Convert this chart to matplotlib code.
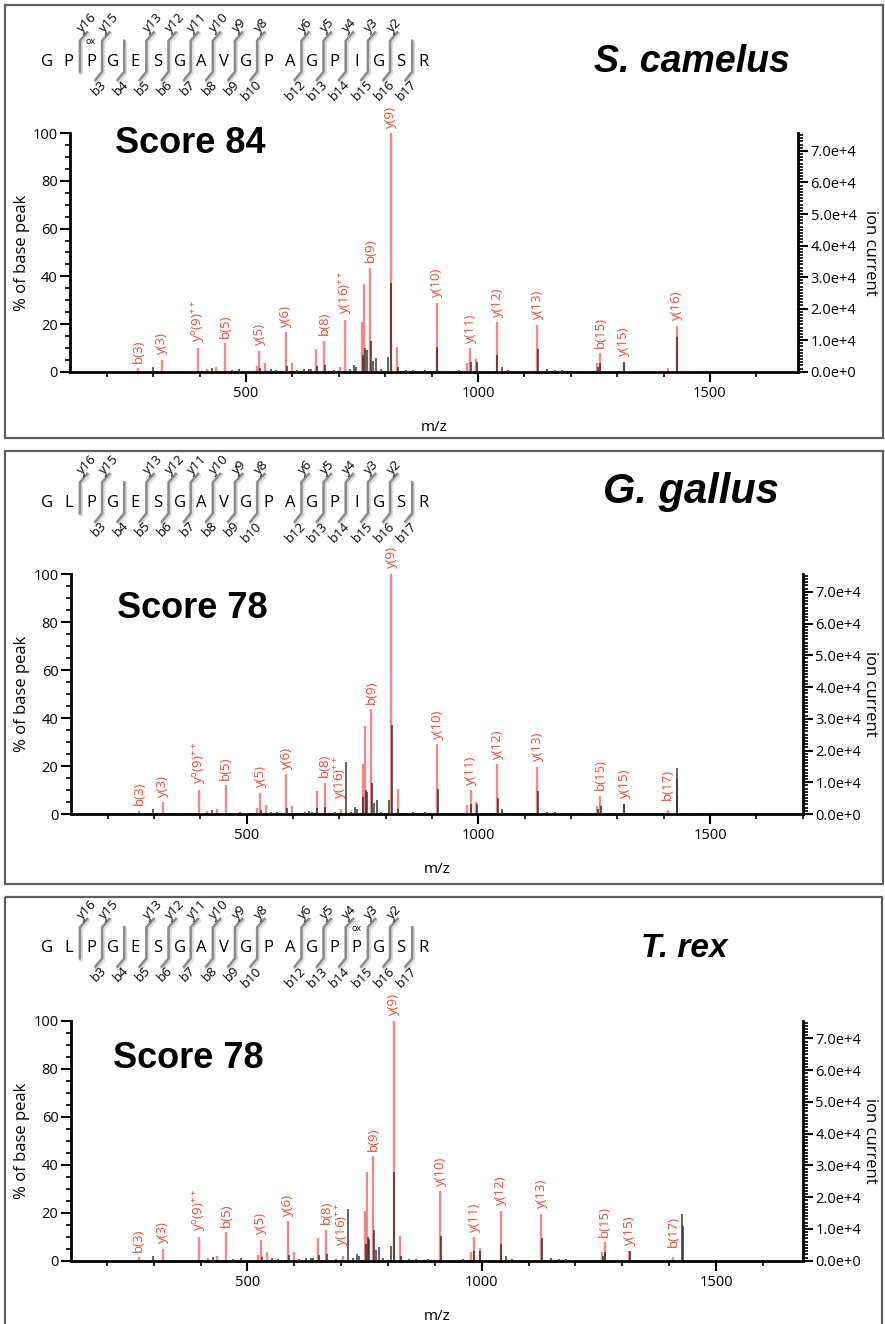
import matplotlib.pyplot as plt
from matplotlib.patches import Rectangle
from matplotlib.ticker import MultipleLocator, FuncFormatter

plt.rcParams['font.family'] = ['Open Sans', 'DejaVu Sans']
plt.rcParams['mathtext.default'] = 'regular'

W, H = 885, 1324

# ---- data (m/z, % of base peak) ----
# peaks matched (red) in every panel
red_mz = [267.6, 318.7, 397.1, 415.0, 435.0, 454.7, 523.0, 528.8, 541.7, 585.6,
          598.6, 651.0, 668.4, 702.9, 751.0, 754.7, 768.3, 812.3, 826.0, 911.6,
          976.3, 983.5, 995.7, 1041.0, 1127.5, 1257.0, 1262.7, 1314.4, 1408.7]
red_pct = [1.4, 4.9, 10.0, 1.2, 2.0, 11.9, 2.5, 8.8, 3.8, 16.5,
           3.5, 9.5, 13.0, 2.0, 20.7, 36.8, 43.6, 100.0, 10.5, 29.0,
           3.8, 9.8, 5.2, 20.7, 19.6, 3.5, 7.7, 4.2, 1.5]

# unmatched peaks (black) in every panel
black_mz = [200, 232, 298.6, 350, 372, 426.0, 470, 485.5, 500, 530.0, 553.0,
            565, 587.8, 610, 625.0, 635, 640.0, 652.0, 669.5, 690, 725, 733.1,
            738.0, 752.0, 757.0, 760.0, 770.0, 774.0, 780.6, 790, 807.0, 813.3,
            827.0, 845, 860.0, 870, 885.0, 912.6, 940, 960, 984.5, 997.0, 1020,
            1042.0, 1051.0, 1065, 1085, 1100, 1128.5, 1148.0, 1165.0, 1180, 1210,
            1235, 1258.0, 1264.0, 1290, 1315.4, 1335, 1390, 1429.0, 1455]
black_pct = [0.3, 0.4, 2.0, 0.5, 0.4, 1.5, 0.6, 1.0, 0.5, 1.5, 1.0,
             0.8, 2.5, 0.6, 1.0, 1.2, 1.0, 2.5, 3.0, 0.7, 1.0, 3.0,
             2.0, 7.0, 10.0, 9.0, 13.0, 4.5, 5.9, 1.0, 6.0, 37.0,
             2.0, 0.6, 0.8, 0.5, 0.8, 10.5, 0.4, 0.6, 4.0, 4.0, 0.5,
             6.8, 2.0, 0.6, 0.5, 0.4, 9.5, 1.0, 0.8, 0.6, 0.4,
             0.5, 2.0, 3.5, 0.5, 4.0, 0.4, 0.3, 14.4, 0.3]

# peaks matched only for S. camelus (black for the other two)
var_mz = [713.7, 1428.0]
var_pct = [21.7, 19.3]

# ion labels: text, m/z, height of the labelled peak
lab_camelus = ['b(3)', 'y(3)', r'y$^{o}$(9)$^{++}$', 'b(5)', 'y(5)', 'y(6)', 'b(8)',
               r'y(16)$^{++}$', 'b(9)', 'y(9)', 'y(10)', 'y(11)', 'y(12)', 'y(13)',
               'b(15)', 'y(15)', 'y(16)']
lab_camelus_mz = [267.6, 318.7, 397.1, 454.7, 528.8, 585.6, 668.4, 713.7, 768.3,
                  812.3, 911.6, 983.5, 1041.0, 1127.5, 1262.7, 1314.4, 1428.0]
lab_camelus_h = [1.4, 4.9, 10.0, 11.9, 8.8, 16.5, 13.0, 21.7, 43.6,
                 100.0, 29.0, 9.8, 20.7, 19.6, 7.7, 4.2, 19.3]

lab_other = ['b(3)', 'y(3)', r'y$^{o}$(9)$^{++}$', 'b(5)', 'y(5)', 'y(6)', 'b(8)',
             r'y(16)$^{++}$', 'b(9)', 'y(9)', 'y(10)', 'y(11)', 'y(12)', 'y(13)',
             'b(15)', 'y(15)', 'b(17)']
lab_other_mz = [267.6, 318.7, 397.1, 454.7, 528.8, 585.6, 668.4, 702.9, 768.3,
                812.3, 911.6, 983.5, 1041.0, 1127.5, 1262.7, 1314.4, 1408.7]
lab_other_h = [1.4, 4.9, 10.0, 11.9, 8.8, 16.5, 13.0, 4.0, 43.6,
               100.0, 29.0, 9.8, 20.7, 19.6, 7.7, 4.2, 3.5]

sequences = ['GPPGESGAVGPAGPIGSR', 'GLPGESGAVGPAGPIGSR', 'GLPGESGAVGPAGPPGSR']
ox_sites = [2, None, 14]
species = ['S. camelus', 'G. gallus', 'T. rex']
scores = ['Score 84', 'Score 78', 'Score 78']
# cleavage sites (after residue k) that carry a y / b ion
y_sites = [2, 3, 5, 6, 7, 8, 9, 10, 12, 13, 14, 15, 16]
b_sites = [3, 4, 5, 6, 7, 8, 9, 10, 12, 13, 14, 15, 16, 17]

# ---- layout in pixels ----
layout = [
    dict(box=(5, 5, 883, 438), seq_y=61.7, ax=(70, 133.3, 798, 371.7),
         xlim=(120.7, 1689.7), score=(115, 153), sp=(692, 72), sp_size=27),
    dict(box=(5, 451, 883, 884), seq_y=503.3, ax=(71, 574, 803, 814),
         xlim=(120.8, 1700.7), score=(117, 618), sp=(691, 503), sp_size=30),
    dict(box=(5, 897, 882, 1340), seq_y=948.3, ax=(71, 1020.7, 802.7, 1260.7),
         xlim=(123.4, 1685), score=(113, 1068), sp=(684, 957), sp_size=24),
]

RED = '#f06a6a'
RED_TXT = '#ee4a30'
GREY = '#8a8a8a'

fig = plt.figure(figsize=(W / 100, H / 100), dpi=100)
ov = fig.add_axes([0, 0, 1, 1])
ov.set_xlim(0, W)
ov.set_ylim(H, 0)
ov.axis('off')


def res_x(i):
    return 46.7 + 22.15 * i


for p, L in enumerate(layout):
    x0, y0, x1, y1 = L['box']
    ov.add_patch(Rectangle((x0, y0), x1 - x0, y1 - y0, fill=False,
                           ec='#5e5e5e', lw=1.6))

    c = L['seq_y']
    for i, aa in enumerate(sequences[p]):
        ov.text(res_x(i), c, aa, ha='center', va='center', fontsize=12)
    if ox_sites[p] is not None:
        ov.text(res_x(ox_sites[p]), c - 20, 'ox', ha='center', va='center',
                fontsize=6.5)

    top, bot = c - 21, c + 10
    for k in range(1, len(sequences[p])):
        has_y = k in y_sites
        has_b = k in b_sites
        if not (has_y or has_b):
            continue
        x = res_x(k - 0.5)
        xs, ys = [], []
        if has_y:
            xs.append(x + 7.3)
            ys.append(top - 8.4)
        xs += [x, x]
        ys += [top, bot]
        if has_b:
            xs.append(x - 6.7)
            ys.append(bot + 8.3)
        ov.plot([v + 1 for v in xs], [v + 1.5 for v in ys], color='#dcdcdc',
                lw=3, solid_capstyle='round', zorder=1)
        ov.plot(xs, ys, color=GREY, lw=1.8, solid_joinstyle='miter', zorder=2)
        if has_y:
            ov.text(x - 1, top - 10, f'y{len(sequences[p]) - k}', rotation=45,
                    rotation_mode='anchor', ha='left', va='center', fontsize=9.5)
        if has_b:
            ov.text(x + 2.5, bot + 10.5, f'b{k}', rotation=45,
                    rotation_mode='anchor', ha='right', va='center', fontsize=9.5)

    ov.text(L['score'][0], L['score'][1], scores[p], ha='left', va='baseline',
            fontsize=26, fontweight='bold', family='Liberation Sans')
    ov.text(L['sp'][0], L['sp'][1], species[p], ha='center', va='baseline',
            fontsize=L['sp_size'], fontweight='bold', style='italic',
            family='Liberation Sans')

    # spectrum axes
    al, at, ar, ab = L['ax']
    ax = fig.add_axes([al / W, 1 - ab / H, (ar - al) / W, (ab - at) / H])
    ax.set_facecolor('none')
    ax.set_xlim(*L['xlim'])
    ax.set_ylim(0, 100)

    if p == 0:
        r_mz, r_pct = red_mz + var_mz, red_pct + var_pct
        k_mz, k_pct = black_mz, black_pct
        labs, lab_mz, lab_h = lab_camelus, lab_camelus_mz, lab_camelus_h
    else:
        r_mz, r_pct = red_mz, red_pct
        k_mz, k_pct = black_mz + var_mz, black_pct + var_pct
        labs, lab_mz, lab_h = lab_other, lab_other_mz, lab_other_h

    ax.vlines(r_mz, 0, r_pct, color=RED, lw=1.7, alpha=0.8, zorder=2)
    ax.vlines(k_mz, 0, k_pct, color='#2a2a2a', lw=1.3, alpha=0.8, zorder=3)
    for t, m, h in zip(labs, lab_mz, lab_h):
        ax.annotate(t, xy=(m, h), xytext=(0, 4), textcoords='offset points',
                    rotation=90, ha='center', va='bottom', color=RED_TXT,
                    fontsize=9.5, annotation_clip=False)

    ax.spines['top'].set_visible(False)
    ax.spines['right'].set_visible(False)
    for s in ('left', 'bottom'):
        ax.spines[s].set_linewidth(2)
    ax.xaxis.set_major_locator(MultipleLocator(500))
    ax.xaxis.set_minor_locator(MultipleLocator(100))
    ax.yaxis.set_major_locator(MultipleLocator(20))
    ax.yaxis.set_minor_locator(MultipleLocator(5))
    ax.tick_params(which='major', direction='out', length=7, width=1.5,
                   labelsize=10.5, pad=2)
    ax.tick_params(which='minor', direction='out', length=3.5, width=1.2)
    ax.tick_params(axis='x', pad=3)
    ax.set_xlabel('m/z', fontsize=11)
    ax.xaxis.set_label_coords(0.5, -(48 / (ab - at)))
    ax.set_ylabel('% of base peak', fontsize=12, va='center')
    ax.yaxis.set_label_coords(-(al - 21.7) / (ar - al), 0.5)

    ax2 = ax.twinx()
    ax2.set_ylim(0, 75600)
    for s in ('left', 'top', 'bottom'):
        ax2.spines[s].set_visible(False)
    ax2.spines['right'].set_linewidth(2)
    ax2.yaxis.set_major_locator(MultipleLocator(10000))
    ax2.yaxis.set_minor_locator(MultipleLocator(1000))
    ax2.yaxis.set_major_formatter(FuncFormatter(
        lambda v, _: '0.0e+0' if v == 0 else f'{v / 1e4:.1f}e+4'))
    ax2.tick_params(which='major', direction='out', length=7, width=1.5,
                    labelsize=10.5, pad=2)
    ax2.tick_params(which='minor', direction='out', length=3.5, width=1.2)
    ax2.set_ylabel('ion current', fontsize=12, rotation=270, va='center')
    ax2.yaxis.set_label_coords((870 - al) / (ar - al), 0.5)

fig.savefig('out.png', dpi=100)
